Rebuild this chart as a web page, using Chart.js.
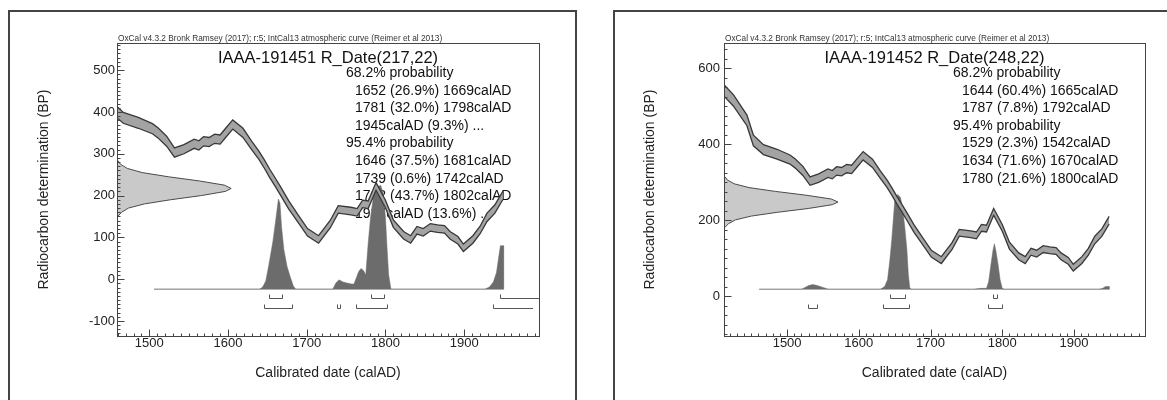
<!DOCTYPE html>
<html>
<head>
<meta charset="utf-8">
<script src="https://cdn.jsdelivr.net/npm/chart.js@4.4.1/dist/chart.umd.min.js"></script>
<style>
  html, body { margin: 0; padding: 0; background: #fff; }
  body { position: relative; width: 1167px; height: 400px; overflow: hidden; }
  .frame { position: absolute; top: 10px; height: 430px; border: 2px solid #444; box-sizing: border-box; }
  canvas { position: absolute; top: 0; }
</style>
</head>
<body>
<div class="frame" style="left:8px;width:569px"></div>
<div class="frame" style="left:613px;width:600px"></div>
<canvas id="leftPlot" width="580" height="400" style="left:0"></canvas>
<canvas id="rightPlot" width="567" height="400" style="left:600px"></canvas>
<script>
// Configuration
const FONT = '"Liberation Sans", Arial, sans-serif';
const HEADER = 'OxCal v4.3.2 Bronk Ramsey (2017); r:5; IntCal13 atmospheric curve (Reimer et al 2013)';
const X_TITLE = 'Calibrated date (calAD)';
const Y_TITLE = 'Radiocarbon determination (BP)';

// IntCal13 curve (calAD, BP, half width)
const CAL_YEAR = [1412, 1425, 1444, 1453, 1467, 1486, 1504, 1511, 1522, 1532, 1544, 1557, 1563, 1569, 1576, 1583, 1590, 1597, 1606, 1619, 1630, 1639, 1646, 1653, 1660, 1667, 1677, 1689, 1701, 1715, 1730, 1740, 1756, 1764, 1771, 1778, 1788, 1800, 1810, 1823, 1832, 1840, 1848, 1857, 1866, 1875, 1882, 1892, 1899, 1911, 1920, 1929, 1939, 1949];
const CAL_BP = [542, 516, 463, 410, 386, 374, 360, 350, 330, 303, 311, 324, 320, 330, 328, 336, 334, 350, 370, 350, 320, 297, 276, 253, 232, 210, 178, 145, 112, 95, 132, 167, 163, 160, 180, 178, 222, 180, 133, 105, 95, 117, 112, 124, 121, 119, 105, 93, 75, 95, 117, 148, 168, 200];
const CAL_ERR = [15, 15, 14, 14, 13, 13, 12, 12, 12, 11, 11, 11, 11, 11, 11, 11, 11, 11, 11, 11, 10, 10, 10, 10, 10, 10, 10, 9, 9, 9, 9, 9, 9, 9, 9, 9, 9, 9, 9, 9, 9, 9, 9, 9, 9, 9, 9, 9, 9, 9, 9, 10, 10, 10];

// Left: IAAA-191451
const TITLE_L = 'IAAA-191451 R_Date(217,22)';
const LINES_L = ['68.2% probability', '1652 (26.9%) 1669calAD', '1781 (32.0%) 1798calAD', '1945calAD (9.3%) ...',
  '95.4% probability', '1646 (37.5%) 1681calAD', '1739 (0.6%) 1742calAD', '1762 (43.7%) 1802calAD', '1937calAD (13.6%) ...'];
const RANGES68_L = [[1652, 1669], [1781, 1798], [1945, null]];
const RANGES95_L = [[1646, 1681], [1739, 1742], [1762, 1802], [1937, null]];
const GAUSS_BP_L = [151, 160, 170, 180, 190, 200, 210, 217, 225, 235, 245, 255, 265, 275, 283];
const GAUSS_P_L = [1, 4, 10, 24, 47, 74, 95, 100, 94, 72, 45, 22, 9, 3, 1];
const POST_YEAR_L = [1506, 1640, 1644, 1648, 1652, 1657, 1661, 1664, 1666, 1668, 1671, 1675, 1679, 1683, 1686, 1733, 1737, 1741, 1746, 1751, 1757, 1760, 1763, 1766, 1769, 1772, 1775, 1778, 1781, 1785, 1789, 1794, 1797, 1800, 1802, 1804, 1807, 1926, 1932, 1937, 1941, 1944, 1946, 1949, 1950, 1950];
const POST_P_L = [0, 0, 2, 8, 24, 46, 69, 87, 83, 60, 38, 22, 12, 3, 0, 0, 6, 9, 7, 6, 5, 5, 11, 17, 20, 18, 14, 44, 69, 91, 99, 100, 93, 69, 40, 14, 0, 0, 2, 7, 16, 32, 42, 42, 42, 0];
const X_TICKS_L = [1500, 1600, 1700, 1800, 1900];
const Y_TICKS_L = [-100, 0, 100, 200, 300, 400, 500];

// Right: IAAA-191452
const TITLE_R = 'IAAA-191452 R_Date(248,22)';
const LINES_R = ['68.2% probability', '1644 (60.4%) 1665calAD', '1787 (7.8%) 1792calAD',
  '95.4% probability', '1529 (2.3%) 1542calAD', '1634 (71.6%) 1670calAD', '1780 (21.6%) 1800calAD'];
const RANGES68_R = [[1644, 1665], [1787, 1792]];
const RANGES95_R = [[1529, 1542], [1634, 1670], [1780, 1800]];
const GAUSS_BP_R = [182, 191, 201, 211, 221, 231, 241, 248, 256, 266, 276, 286, 296, 306, 314];
const GAUSS_P_R = [1, 4, 10, 24, 47, 74, 95, 100, 94, 72, 45, 22, 9, 3, 1];
const POST_YEAR_R = [1461, 1520, 1525, 1530, 1536, 1542, 1550, 1558, 1630, 1636, 1640, 1643, 1646, 1650, 1654, 1658, 1661, 1664, 1667, 1669, 1671, 1673, 1760, 1770, 1778, 1781, 1784, 1787, 1789, 1791, 1794, 1797, 1800, 1803, 1935, 1940, 1944, 1949, 1949];
const POST_P_R = [0, 0, 2, 4, 5, 4, 2, 0, 0, 3, 10, 29, 53, 93, 100, 97, 86, 66, 42, 16, 2, 0, 0, 1, 1, 8, 25, 41, 48, 41, 27, 10, 1, 0, 0, 1, 3, 3, 0];
const X_TICKS_R = [1500, 1600, 1700, 1800, 1900];
const Y_TICKS_R = [0, 200, 400, 600];

// text, ticks and range brackets drawn around the plot area
function decor(p) {
  return {
    id: 'oxcalDecor',
    beforeDatasetsDraw(chart) {
      const { ctx, chartArea: a } = chart;
      ctx.save();
      ctx.textBaseline = 'alphabetic';
      ctx.fillStyle = '#333';
      ctx.font = '8.3px ' + FONT;
      ctx.textAlign = 'left';
      ctx.fillText(HEADER, a.left + 1, a.top - 2);
      ctx.fillStyle = '#111';
      ctx.font = '16.5px ' + FONT;
      ctx.textAlign = 'center';
      ctx.fillText(p.title, (a.left + a.right) / 2, a.top + 20);
      ctx.font = '14px ' + FONT;
      ctx.textAlign = 'left';
      p.lines.forEach((t, i) => {
        const indent = t.includes('probability') ? 229 : 238;
        ctx.fillText(t, a.left + indent, a.top + 34 + i * 17.6);
      });
      ctx.restore();
    },
    afterDraw(chart) {
      const { ctx, chartArea: a, scales: { x, y } } = chart;
      ctx.save();
      ctx.strokeStyle = '#444';
      ctx.lineWidth = 1;
      const L = Math.round(a.left) + 0.5, T = Math.round(a.top) + 0.5;
      const R = Math.round(a.right) + 0.5, B = Math.round(a.bottom) + 0.5;
      ctx.strokeRect(L, T, R - L, B - T);

      // inward ticks, 10 yr minor on x
      ctx.beginPath();
      for (let v = Math.ceil(x.min / 10) * 10; v <= x.max; v += 10) {
        const px = Math.round(x.getPixelForValue(v)) + 0.5;
        const len = v % 100 === 0 ? 7 : 3;
        ctx.moveTo(px, B); ctx.lineTo(px, B - len);
      }
      for (let v = Math.ceil(y.min / p.minorY) * p.minorY; v <= y.max; v += p.minorY) {
        const py = Math.round(y.getPixelForValue(v)) + 0.5;
        const len = v % p.majorY === 0 ? 7 : 3;
        ctx.moveTo(L, py); ctx.lineTo(L + len, py);
      }
      ctx.stroke();

      // 68.2% and 95.4% ranges under the baseline
      const base = y.getPixelForValue(p.base);
      ctx.strokeStyle = '#555';
      [p.r68, p.r95].forEach((rows, r) => {
        const yb = Math.round(base + 9 + r * 10) + 0.5;
        rows.forEach(([s, e]) => {
          const x1 = Math.round(x.getPixelForValue(s)) + 0.5;
          const x2 = e == null ? a.right - (r ? 6 : 0) : Math.round(x.getPixelForValue(e)) + 0.5;
          ctx.beginPath();
          ctx.moveTo(x1, yb - 4);
          ctx.lineTo(x1, yb);
          ctx.lineTo(x2, yb);
          if (e != null) ctx.lineTo(x2, yb - 4);
          ctx.stroke();
        });
      });
      ctx.restore();
    }
  };
}

function buildChart(id, p) {
  const upper = CAL_YEAR.map((t, i) => ({ x: t, y: CAL_BP[i] + CAL_ERR[i] }));
  const lower = CAL_YEAR.map((t, i) => ({ x: t, y: CAL_BP[i] - CAL_ERR[i] }));
  const last = p.gaussBP.length - 1;
  const gauss = [{ x: p.xMin, y: p.gaussBP[0] }]
    .concat(p.gaussBP.map((b, i) => ({ x: p.xMin + p.gaussP[i] / 100 * p.gaussSize, y: b })))
    .concat([{ x: p.xMin, y: p.gaussBP[last] }]);
  const post = p.postYear.map((t, i) => ({ x: t, y: p.base + p.postP[i] / 100 * p.postSize }));
  const baseLine = [{ x: p.postYear[0], y: p.base }, { x: p.postYear[p.postYear.length - 1], y: p.base }];

  return new Chart(document.getElementById(id), {
    type: 'line',
    data: {
      datasets: [
        { data: upper, borderColor: '#383838', borderWidth: 1.3, backgroundColor: '#a3a3a3', fill: '+1', order: 0 },
        { data: lower, borderColor: '#383838', borderWidth: 1.3, fill: false, order: -1 },
        { data: gauss, borderColor: '#4a4a4a', borderWidth: 1, backgroundColor: '#c9c9c9', fill: 'shape', order: 1 },
        { data: post, borderColor: '#6c6c6c', borderWidth: 0.5, backgroundColor: '#6c6c6c', fill: { value: p.base }, order: 2 },
        { data: baseLine, borderColor: '#c2c2c2', borderWidth: 1.5, fill: false, order: 3 }
      ]
    },
    options: {
      responsive: false,
      animation: false,
      layout: { padding: { top: 43, right: p.padRight, bottom: 0, left: 0 } },
      elements: { point: { radius: 0 }, line: { tension: 0 } },
      plugins: { legend: { display: false }, tooltip: { enabled: false } },
      scales: {
        x: {
          type: 'linear', min: p.xMin, max: p.xMax,
          grid: { display: false, drawTicks: false }, border: { display: false },
          afterBuildTicks: s => { s.ticks = p.xTicks.map(v => ({ value: v })); },
          afterFit: s => { s.height = 64; },
          ticks: { autoSkip: false, maxRotation: 0, padding: 0, color: '#222', font: { family: FONT, size: 13 }, callback: v => String(v) },
          title: { display: true, text: X_TITLE, color: '#222', font: { family: FONT, size: 14 }, padding: { top: 0, bottom: 18.6 } }
        },
        y: {
          type: 'linear', min: p.yMin, max: p.yMax,
          grid: { display: false, drawTicks: false }, border: { display: false },
          afterBuildTicks: s => { s.ticks = p.yTicks.map(v => ({ value: v })); },
          afterFit: s => { s.width = p.yWidth; },
          ticks: { autoSkip: false, padding: p.tickPad, color: '#222', font: { family: FONT, size: 13 }, callback: v => String(v) },
          title: { display: true, text: Y_TITLE, color: '#222', font: { family: FONT, size: 14 }, padding: { top: p.yTitlePad, bottom: 0 } }
        }
      }
    },
    plugins: [decor(p)]
  });
}

buildChart('leftPlot', {
  title: TITLE_L, lines: LINES_L, r68: RANGES68_L, r95: RANGES95_L,
  gaussBP: GAUSS_BP_L, gaussP: GAUSS_P_L, postYear: POST_YEAR_L, postP: POST_P_L,
  xTicks: X_TICKS_L, yTicks: Y_TICKS_L,
  xMin: 1459, xMax: 1995, yMin: -136, yMax: 565, majorY: 100, minorY: 10,
  base: -24, postSize: 248, gaussSize: 145,
  yWidth: 117, padRight: 41, yTitlePad: 35.6, tickPad: 2
});

buildChart('rightPlot', {
  title: TITLE_R, lines: LINES_R, r68: RANGES68_R, r95: RANGES95_R,
  gaussBP: GAUSS_BP_R, gaussP: GAUSS_P_R, postYear: POST_YEAR_R, postP: POST_P_R,
  xTicks: X_TICKS_R, yTicks: Y_TICKS_R,
  xMin: 1412, xMax: 1999, yMin: -105, yMax: 667, majorY: 200, minorY: 25,
  base: 18, postSize: 250, gaussSize: 159,
  yWidth: 124, padRight: 22, yTitlePad: 41.6, tickPad: 4
});
</script>
</body>
</html>
